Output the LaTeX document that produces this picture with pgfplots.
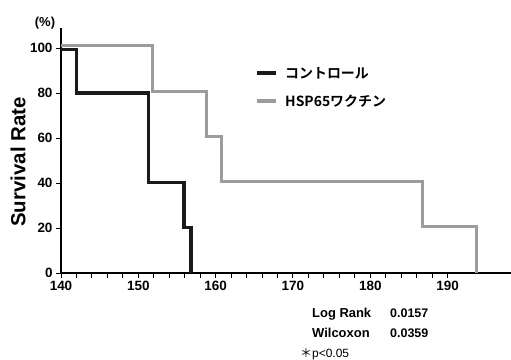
\documentclass[border=0pt]{standalone}
\usepackage{pgfplots}
\pgfplotsset{compat=1.18}
\usepackage{fontspec}
\setmainfont{Liberation Sans}
\newfontfamily\jp{Noto Sans CJK JP Bold}
\newfontfamily\jpr{Noto Sans CJK JP}
\definecolor{cblack}{HTML}{1A1A1A}
\definecolor{cgray}{HTML}{9C9C9C}
\begin{document}
\begin{tikzpicture}[x=1bp,y=1bp]
\useasboundingbox (0,0) rectangle (511,359);
\begin{axis}[
  at={(61bp,86bp)}, anchor=south west,
  scale only axis, width=450bp, height=245bp,
  xmin=140, xmax=198.2, ymin=0, ymax=108.9,
  axis lines=left, axis line style={-, line width=1.1bp, black},
  xtick={140,150,...,190}, ytick={0,20,...,100},
  xminorticks=true, yminorticks=false,
  minor x tick num=4,
  tick align=outside, major tick length=5bp, minor tick length=4.5bp,
  major tick style={black, line width=1bp},
  minor tick style={black, line width=1bp},
  ticklabel style={font=\fontsize{13.5}{15}\selectfont\bfseries},
  /pgf/number format/assume math mode=true,
  clip=false,
]
\addplot[cgray, line width=3bp, line join=miter] coordinates {
 (140,101.3)(151.8,101.3)(151.8,80.5)(158.8,80.5)(158.8,60.5)(160.8,60.5)
 (160.8,40.7)(186.7,40.7)(186.7,20.5)(193.8,20.5)(193.8,0)};
\addplot[cblack, line width=3.2bp, line join=miter] coordinates {
 (140,99.5)(142,99.5)(142,80)(151.3,80)(151.3,40.3)(155.9,40.3)(155.9,20.3)(156.8,20.3)(156.8,0)};
\end{axis}
\node[font=\fontsize{13}{15}\selectfont\bfseries] at (45,336) {(\%)};
\node[rotate=90, font=\fontsize{20.5}{24}\selectfont\bfseries] at (18,197) {Survival Rate};
\draw[cblack, line width=3.5bp] (257,286) -- (276,286);
\draw[cgray, line width=3.5bp] (257,258) -- (276,258);
\node[anchor=west, font=\fontsize{14}{16}\selectfont\jp, inner sep=0pt] at (285,286) {コントロール};
\node[anchor=west, font=\fontsize{14}{16}\selectfont\jp, inner sep=0pt] at (285,258) {HSP65ワクチン};
\node[anchor=base west, inner sep=0pt, font=\fontsize{13}{15}\selectfont\bfseries] at (312,42) {Log Rank};
\node[anchor=base west, inner sep=0pt, font=\fontsize{12.5}{15}\selectfont\bfseries] at (390,42) {0.0157};
\node[anchor=base west, inner sep=0pt, font=\fontsize{13}{15}\selectfont\bfseries] at (312,22) {Wilcoxon};
\node[anchor=base west, inner sep=0pt, font=\fontsize{12.5}{15}\selectfont\bfseries] at (390,22) {0.0359};
\node[anchor=base west, inner sep=0pt, font=\fontsize{12}{14}\selectfont] at (300,2) {{\jpr ＊}p<0.05};
\end{tikzpicture}
\end{document}
